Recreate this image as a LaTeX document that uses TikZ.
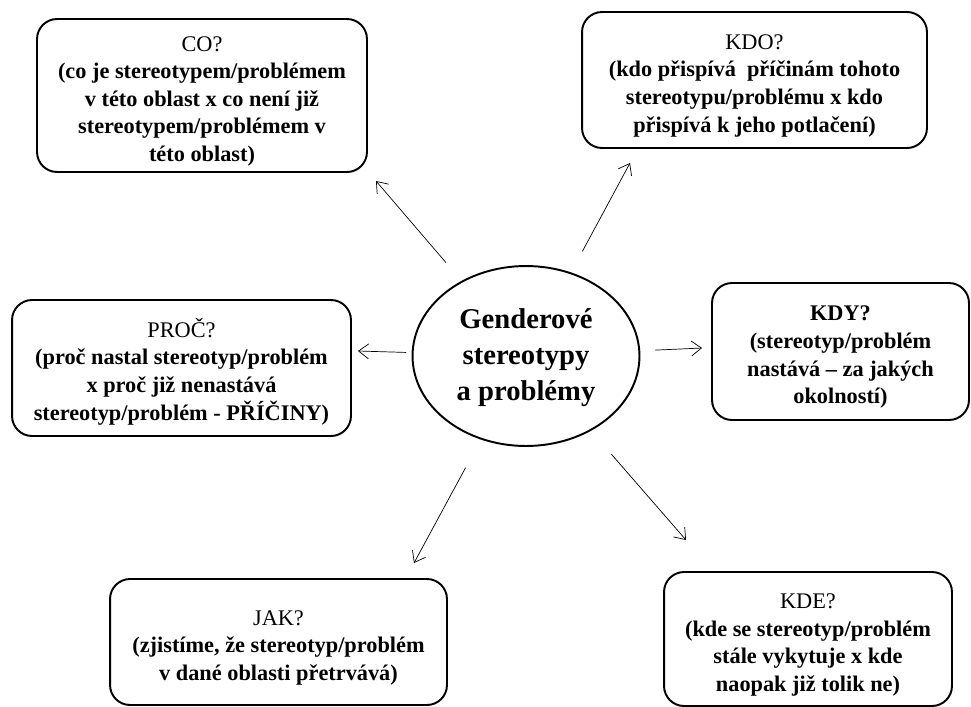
\documentclass[tikz,border=0pt]{standalone}
\usepackage{fontspec}
\setmainfont{Liberation Serif}
\usetikzlibrary{shapes.geometric,arrows.meta}
\newcommand{\qtext}[2]{\raisebox{-#1}[0pt][0pt]{\begin{tabular}{@{}c@{}}#2\end{tabular}}}

\begin{document}
\begin{tikzpicture}[x=0.02cm,y=-0.02cm,
  box/.style={draw,line width=1.1pt,rounded corners=0.4cm,inner sep=0pt,
    font=\bfseries\fontsize{12.7}{15.7}\selectfont},
  arr/.style={-{Straight Barb[length=2mm,width=3mm]},line width=0.4pt}]
\useasboundingbox (0,0) rectangle (971,707);

% Centre
\node[draw,ellipse,line width=1.1pt,minimum width=4.54cm,minimum height=3.6cm,inner sep=0pt,
  font=\bfseries\fontsize{16.3}{20.4}\selectfont] (ell) at (526,356)
  {\qtext{5pt}{Genderové\\stereotypy\\a problémy}};

% Question boxes
\node[box,minimum width=6.6cm,minimum height=3.06cm] (co) at (202,95.5)
  {\qtext{6pt}{\mdseries CO?\\(co je stereotypem/problémem\\v této oblast x co není již\\stereotypem/problémem v\\této oblast)}};
\node[box,minimum width=6.9cm,minimum height=2.72cm] (kdo) at (754.5,80)
  {\qtext{6pt}{\mdseries KDO?\\(kdo přispívá\ \ příčinám tohoto\\stereotypu/problému x kdo\\přispívá k jeho potlačení)}};
\node[box,minimum width=6.78cm,minimum height=2.72cm] (proc) at (181.5,368)
  {\qtext{6pt}{\mdseries PROČ?\\(proč nastal stereotyp/problém\\x proč již nenastává\\stereotyp/problém - PŘÍČINY)}};
\node[box,minimum width=5.14cm,minimum height=2.74cm] (kdy) at (840.5,351.5)
  {\qtext{6pt}{KDY?\\(stereotyp/problém\\nastává – za jakých\\okolností)}};
\node[box,minimum width=6.74cm,minimum height=2.52cm] (jak) at (278.5,642)
  {\qtext{6pt}{\mdseries JAK?\\(zjistíme, že stereotyp/problém\\v dané oblasti přetrvává)}};
\node[box,minimum width=5.76cm,minimum height=2.68cm] (kde) at (808,639)
  {\qtext{6pt}{\mdseries KDE?\\(kde se stereotyp/problém\\stále vykytuje x kde\\naopak již tolik ne)}};

% Arrows
\coordinate (co-tip) at (376,181);
\coordinate (kdo-tip) at (630,163);
\coordinate (proc-tip) at (358,351);
\coordinate (kdy-tip) at (702,348);
\coordinate (jak-tip) at (414,563);
\coordinate (kde-tip) at (686,540);
\foreach \n/\g in {co/0.48,kdo/0.48,proc/0.11,kdy/0.3,jak/0.64,kde/0.62}
{
    \draw[arr,shorten <=\g cm] (ell) -- (\n-tip);
}
\end{tikzpicture}
\end{document}
